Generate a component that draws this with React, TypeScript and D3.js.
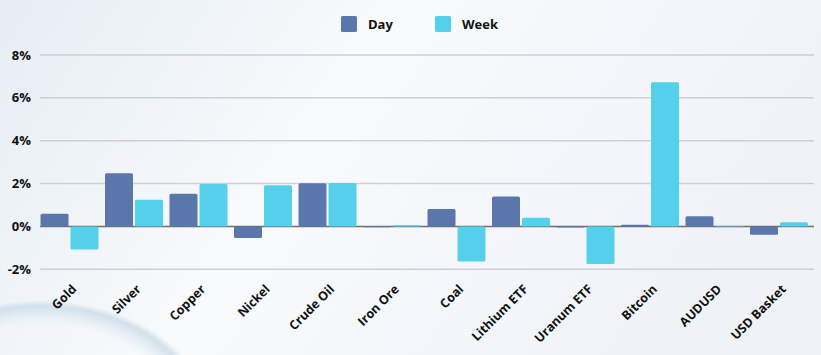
import React from "react";
import * as d3 from "d3";

const categories = ["Gold", "Silver", "Copper", "Nickel", "Crude Oil", "Iron Ore", "Coal", "Lithium ETF", "Uranum ETF", "Bitcoin", "AUDUSD", "USD Basket"];
const dayValues = [0.59, 2.48, 1.52, -0.54, 2.02, -0.01, 0.81, 1.4, -0.05, 0.08, 0.48, -0.39];
const weekValues = [-1.08, 1.24, 1.98, 1.92, 2.03, 0.06, -1.64, 0.4, -1.75, 6.73, -0.01, 0.2];
const yTicks = [-2, 0, 2, 4, 6, 8];
const seriesNames = ["Day", "Week"];
const seriesColors = ["#5a76aa", "#55d0ea"];

const W = 821, H = 355;
const left = 40, right = 814;
const FONT = "'Open Sans', sans-serif";

export default function App() {
  const x = d3.scaleBand<string>().domain(categories).range([left, right]).paddingInner(0).paddingOuter(0);
  const y = d3.scaleLinear().domain([-2, 8]).range([269.3, 55]);
  const bw = x.bandwidth();
  const barW = bw * 0.434;
  const series = [dayValues, weekValues];
  return (
    <div style={{ position: "absolute", left: 0, top: 0 }}>
      <svg width={W} height={H} style={{ display: "block" }}>
        <defs>
          <linearGradient id="bg" x1="0" y1="0" x2="1" y2="0.3">
            <stop offset="0" stopColor="#e6edf3" />
            <stop offset="0.45" stopColor="#f8fafc" />
            <stop offset="1" stopColor="#eff3f8" />
          </linearGradient>
          <radialGradient id="swirl" cx="0.5" cy="0.5" r="0.5">
            <stop offset="0.8" stopColor="#dbe7ef" stopOpacity="0" />
            <stop offset="0.95" stopColor="#cddeea" stopOpacity="0.9" />
            <stop offset="1" stopColor="#cddeea" stopOpacity="0" />
          </radialGradient>
        </defs>
        <rect x={0} y={0} width={W} height={H} fill="url(#bg)" />
        <ellipse cx={40} cy={420} rx={170} ry={120} fill="url(#swirl)" />
        {seriesNames.map((n, i) => (
          <g key={n} transform={`translate(${341 + i * 94},16)`}>
            <rect width={16} height={16} rx={1.5} fill={seriesColors[i]} />
            <text x={27} y={13} fontFamily={FONT} fontWeight={700} fontSize={13} fill="#111">{n}</text>
          </g>
        ))}
        {yTicks.map(t => (
          <g key={t}>
            <line x1={left} x2={right} y1={y(t)} y2={y(t)} stroke={t === 0 ? "#6e6e6e" : "#cdd1d6"} strokeWidth={1.5} />
            <text x={31} y={y(t) + 4.5} textAnchor="end" fontFamily={FONT} fontWeight={700} fontSize={13} fill="#111">{t}%</text>
          </g>
        ))}
        {series.map((vals, si) => vals.map((v, ci) => {
          const x0 = (x(categories[ci]) as number) + 0.5 + si * (barW + 2);
          const y0 = Math.min(y(v), y(0));
          const h = Math.max(Math.abs(y(v) - y(0)), 0.8);
          return <rect key={`${si}-${ci}`} x={x0} y={y0} width={barW} height={h} rx={1.5} fill={seriesColors[si]} />;
        }))}
        {categories.map(c => {
          const cx = (x(c) as number) + bw / 2 + 5;
          const cy = 290;
          return (
            <text key={c} x={cx} y={cy} transform={`rotate(-45 ${cx} ${cy})`} textAnchor="end" fontFamily={FONT} fontWeight={700} fontSize={12.5} fill="#111">{c}</text>
          );
        })}
      </svg>
    </div>
  );
}
